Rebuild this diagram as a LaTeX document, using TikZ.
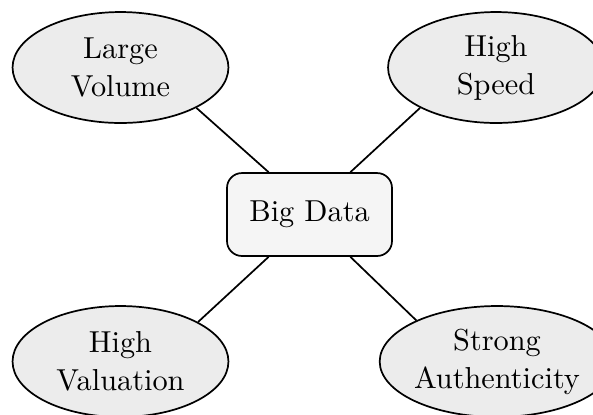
\documentclass[tikz,border=0pt]{standalone}
\usetikzlibrary{shapes.geometric}
\begin{document}
\begin{tikzpicture}[x=0.3497pt,y=-0.3497pt,
  feature/.style={ellipse,draw,line width=0.6pt,fill=gray!15,
    minimum width=75.5pt,minimum height=38.8pt,inner sep=0pt,
    align=center,font=\fontsize{10.6}{13.3}\selectfont},
  hub/.style={rectangle,rounded corners=5.2pt,draw,line width=0.6pt,fill=gray!8,
    minimum width=57.7pt,minimum height=29pt,inner sep=0pt,
    font=\fontsize{10.6}{13.3}\selectfont},
  link/.style={line width=0.6pt}]
\useasboundingbox (0,0) rectangle (593,414);
\clip (0,0) rectangle (593,414);
\node[hub] (bd) at (309.5,214.5) {Big Data};
\node[feature] (lv) at (120.5,67.5) {Large\\Volume};
\node[feature] (hs) at (496,67.5) {High\\Speed};
\node[feature] (hv) at (120.5,361.5) {High\\Valuation};
\node[feature] (sa) at (497,361.5) {Strong\\Authenticity};
\draw[link] (bd.134) -- (lv.-28);
\draw[link] (bd.46) -- (hs.-152);
\draw[link] (bd.226) -- (hv.27);
\draw[link] (bd.-46) -- (sa.153);
\end{tikzpicture}
\end{document}
